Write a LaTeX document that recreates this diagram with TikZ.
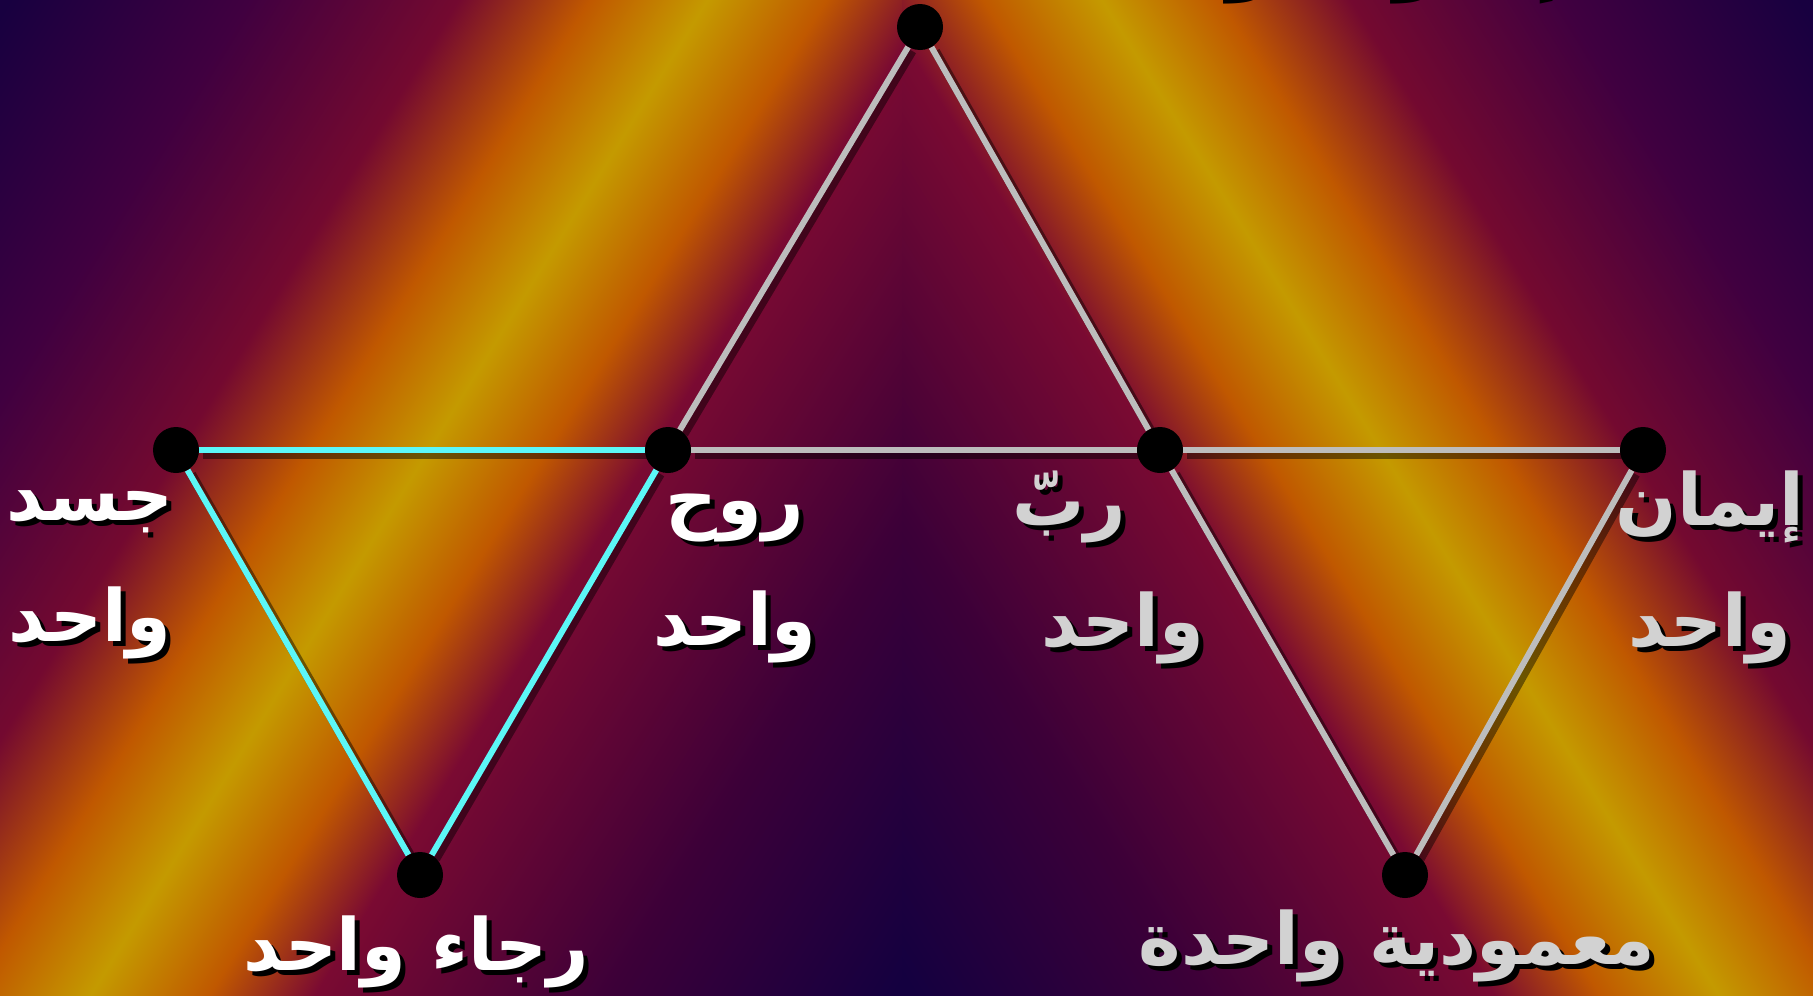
\documentclass[tikz,border=0pt]{standalone}
\usepackage{fontspec}
\newfontfamily\arabicfont[Script=Arabic]{DejaVu Sans}
\TeXXeTstate=1
\definecolor{navyband}{HTML}{140040}
\definecolor{purpleband}{HTML}{3C0038}
\definecolor{magentaband}{HTML}{7A0A32}
\definecolor{orangeband}{HTML}{C05800}
\definecolor{goldband}{HTML}{C49A00}
\definecolor{plumband}{HTML}{400040}
\definecolor{cyanline}{HTML}{5CF7F7}
\definecolor{greyline}{HTML}{BDBDBD}
\definecolor{greytext}{HTML}{D2D2D2}
\pgfdeclarehorizontalshading{bands}{3000pt}{color(0pt)=(navyband); color(108pt)=(navyband);
  color(350pt)=(purpleband); color(600pt)=(magentaband); color(690pt)=(orangeband);
  color(791pt)=(goldband); color(891pt)=(orangeband); color(1002pt)=(magentaband!95!black);
  color(1182pt)=(plumband); color(1382pt)=(navyband!90!plumband); color(1600pt)=(navyband)}
\pgfdeclarelayer{bg}
\pgfdeclarelayer{edges}
\pgfsetlayers{bg,edges,main}
\newcommand{\shd}[1]{\rlap{\kern5pt\raisebox{-5pt}{\color{black}#1}}#1}
\begin{document}
\begin{tikzpicture}
  [x=1pt, y=-1pt,
   dot/.style={circle, fill=black, inner sep=0pt, minimum size=46pt},
   lbl/.style={font=\arabicfont\bfseries\fontsize{72}{121}\selectfont, align=center, inner sep=0pt},
   link/.style={line width=6pt, preaction={draw=black, opacity=.45, line width=9pt,
     transform canvas={shift={(4pt,-4pt)}}}},
   hope/.style={link, cyanline},
   faith/.style={link, greyline}]
  \useasboundingbox (0,0) rectangle (1813,996);
  \begin{pgfonlayer}{bg}
    \begin{scope}
      \clip (0,0) rectangle (902,996);
      \node[inner sep=0pt, outer sep=0pt, rotate=148.2] at (762,-105.4) {\pgfuseshading{bands}};
    \end{scope}
    \begin{scope}
      \clip (902,0) rectangle (1813,996);
      \node[inner sep=0pt, outer sep=0pt, rotate=31.8] at (1047,-105.4) {\pgfuseshading{bands}};
    \end{scope}
  \end{pgfonlayer}
  \node[dot] (god) at (920,27) {};
  \node[dot] (body) at (176,450) {};
  \node[dot] (spirit) at (668,450) {};
  \node[dot] (lord) at (1160,450) {};
  \node[dot] (faithnode) at (1643,450) {};
  \node[dot] (hopenode) at (420,875) {};
  \node[dot] (baptism) at (1405,875) {};
  \begin{pgfonlayer}{edges}
    \draw[hope] (body) -- (spirit);
    \draw[hope] (body) -- (hopenode);
    \draw[hope] (spirit) -- (hopenode);
    \draw[faith] (god) -- (spirit);
    \draw[faith] (god) -- (lord);
    \draw[faith] (spirit) -- (lord);
    \draw[faith] (lord) -- (faithnode);
    \draw[faith] (lord) -- (baptism);
    \draw[faith] (faithnode) -- (baptism);
  \end{pgfonlayer}
  \node[lbl, text=white] (body-l) at (90,577) {\shd{\beginR جسد\endR}\\\shd{\beginR واحد\endR}};
  \node[lbl, text=white] (spirit-l) at (735,581) {\shd{\beginR روح\endR}\\\shd{\beginR واحد\endR}};
  \node[lbl, text=greytext, align=left, anchor=west] (lord-l) at (1012,570) {\shd{\beginR ربّ\endR}\\\hspace*{29pt}\shd{\beginR واحد\endR}};
  \node[lbl, text=greytext] (faith-l) at (1710,570) {\shd{\beginR إيمان\endR}\\\shd{\beginR واحد\endR}};
  \node[lbl, text=white] (hope-l) at (416,954) {\shd{\beginR رجاء واحد\endR}};
  \node[lbl, text=greytext] (baptism-l) at (1397,948) {\shd{\beginR معمودية واحدة\endR}};
  \node[lbl, text=white, anchor=base] (god-l) at (1235,-19) {\shd{\beginR إله وآب واحد للكل\endR}};
\end{tikzpicture}
\end{document}
